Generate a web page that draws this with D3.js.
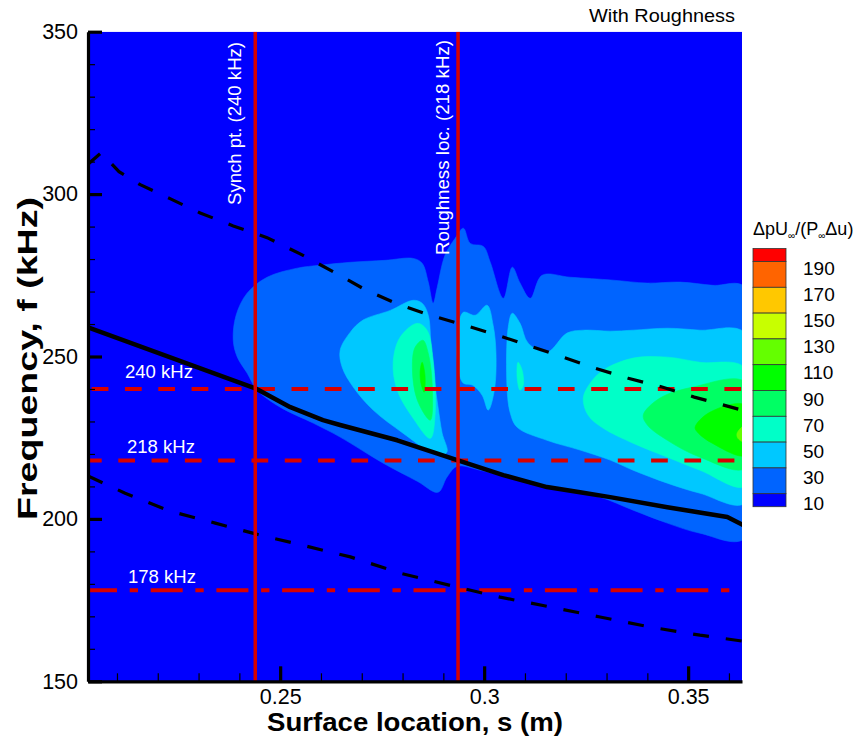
<!DOCTYPE html>
<html><head><meta charset="utf-8">
<script src="https://cdn.jsdelivr.net/npm/d3@7"></script>
<style>
body{margin:0;background:#fff}
svg{display:block}
text{font-family:"Liberation Sans",Arial,Helvetica,sans-serif}
</style>
</head><body>
<svg id="chart" width="858" height="739"></svg>
<script>
// ---------------- DATA ----------------
const xDomain = [0.2029, 0.3632];          // surface location s (m)
const yDomain = [150, 350];                // frequency (kHz)
const xTickValues = [0.25, 0.30, 0.35];
const xTickLabels = ["0.25", "0.3", "0.35"];
const yTickValues = [150, 200, 250, 300, 350];
const yTickLabels = ["150", "200", "250", "300", "350"];
const xMinorTicks = [0.21,0.22,0.23,0.24,0.26,0.27,0.28,0.29,0.31,0.32,0.33,0.34,0.36];
const yMinorTicks = [160,170,180,190,210,220,230,240,260,270,280,290,310,320,330,340];

const levels = [10, 30, 50, 70, 90, 110, 130, 150, 170, 190];
const levelColors = ["#0000FF","#0064FF","#00C8FF","#00FFC8","#00FF64","#00FF00",
                     "#64FF00","#C8FF00","#FFC800","#FF6400","#FF0000"];

// contour band outlines (s, f); each filled with colour above its level
const band10 = [[0.2385,255.0],[0.2392,262.7],[0.2419,269.5],[0.2468,274.4],[0.2542,277.2],[0.2598,278.1],
 [0.2672,279.0],[0.2757,279.6],[0.2826,280.2],[0.2848,278.7],[0.2863,272.9],[0.2875,266.4],[0.2885,271.3],
 [0.2904,281.2],[0.2929,286.4],[0.2949,289.5],[0.2966,284.8],[0.2998,283.9],[0.3015,279.0],[0.3047,267.9],
 [0.3069,277.5],[0.3088,272.6],[0.3113,267.9],[0.3142,275.0],[0.3211,274.4],[0.3316,273.5],[0.3400,272.6],
 [0.3480,272.9],[0.3561,271.9],[0.3640,271.3],[0.3640,194.1],[0.3529,195.6],[0.3449,198.7],[0.3365,202.7],
 [0.3284,206.7],[0.3186,208.9],[0.3088,211.9],[0.2990,215.0],[0.2934,216.2],[0.2909,212.9],[0.2887,208.2],
 [0.2836,211.6],[0.2752,217.2],[0.2647,225.2],[0.2581,229.5],[0.2500,234.4],[0.2444,239.6],[0.2419,244.9],
 [0.2395,249.8]];
const band30a = [[0.2647,251.9],[0.2672,257.5],[0.2703,261.2],[0.2770,264.2],[0.2826,267.3],[0.2848,266.4],
 [0.2863,262.7],[0.2870,252.9],[0.2878,242.7],[0.2887,234.4],[0.2897,226.4],[0.2909,220.6],[0.2892,219.6],
 [0.2868,220.6],[0.2801,226.4],[0.2728,233.5],[0.2679,240.6],[0.2652,246.7]];
const band30b = [[0.2936,258.1],[0.2949,263.6],[0.2978,262.7],[0.3007,265.8],[0.3022,259.6],[0.3029,251.0],
 [0.3025,239.6],[0.3010,233.5],[0.2995,238.1],[0.2971,241.2],[0.2949,241.8],[0.2936,246.7]];
const band30c = [[0.3069,263.3],[0.3088,260.2],[0.3108,254.1],[0.3154,251.3],[0.3203,257.2],[0.3243,258.1],
 [0.3309,257.8],[0.3365,258.1],[0.3449,258.7],[0.3529,258.1],[0.3640,257.2],[0.3640,204.9],[0.3529,207.9],
 [0.3449,211.0],[0.3365,215.0],[0.3309,218.1],[0.3235,221.2],[0.3154,224.2],[0.3081,228.2],[0.3064,232.6],
 [0.3056,240.6],[0.3059,259.0]];
const band50a = [[0.2836,260.2],[0.2860,258.1],[0.2875,248.9],[0.2880,232.6],[0.2868,224.8],[0.2826,231.0],
 [0.2787,239.6],[0.2777,248.2],[0.2794,255.9]];
const band50b = [[0.3083,248.2],[0.3093,245.8],[0.3096,241.2],[0.3088,239.6],[0.3081,243.3]];
const band50c = [[0.3243,237.2],[0.3260,241.8],[0.3292,245.8],[0.3365,249.5],[0.3449,249.8],[0.3529,248.2],
 [0.3640,246.4],[0.3640,210.1],[0.3529,215.0],[0.3449,219.0],[0.3365,223.3],[0.3292,227.9],[0.3255,231.9]];
const band70a = [[0.2850,255.0],[0.2863,251.0],[0.2873,240.6],[0.2868,230.4],[0.2836,236.6],[0.2824,246.7],
 [0.2831,252.9]];
const band70b = [[0.3390,232.0],[0.3431,237.2],[0.3512,240.6],[0.3640,242.1],[0.3640,215.6],[0.3529,219.0],
 [0.3449,224.2],[0.3400,228.9]];
const band90a = [[0.2848,248.2],[0.2855,244.2],[0.2853,239.0],[0.2846,241.2],[0.2843,245.2]];
const band90b = [[0.3517,228.2],[0.3554,232.9],[0.3640,235.0],[0.3640,219.6],[0.3559,223.3],[0.3525,226.4]];
const band110a = [[0.3620,226.4],[0.3640,228.9],[0.3640,223.6],[0.3622,224.8]];

const bands = [
  {level: 10, polys: [band10]},
  {level: 30, polys: [band30a, band30b, band30c]},
  {level: 50, polys: [band50a, band50b, band50c]},
  {level: 70, polys: [band70a, band70b]},
  {level: 90, polys: [band90a, band90b]},
  {level: 110, polys: [band110a]}
];

// black curves
const solidCurve = [[0.2029,259.0],[0.2439,240.2],[0.2525,234.4],[0.2605,230.4],[0.2647,228.9],[0.2787,224.2],
 [0.2934,218.1],[0.3047,213.5],[0.3154,209.8],[0.3235,208.2],[0.3309,206.7],[0.3449,203.6],[0.3596,200.6],[0.3635,198.1]];
const upperDashed = [[0.2029,309.2],[0.2061,312.7],[0.2105,306.9],[0.2157,302.9],[0.2230,298.6],[0.2304,294.2],
 [0.2385,290.2],[0.2468,286.6],[0.2549,281.6],[0.2630,276.1],[0.2708,270.6],[0.2789,266.1],[0.2868,262.7],
 [0.2953,259.6],[0.3032,256.6],[0.3113,253.2],[0.3194,249.8],[0.3272,246.4],[0.3353,243.3],[0.3436,240.6],
 [0.3515,237.5],[0.3632,233.5]];
const lowerDashed = [[0.2029,213.2],[0.2120,207.9],[0.2230,202.4],[0.2341,198.7],[0.2451,195.0],[0.2532,192.6],
 [0.2672,188.3],[0.2794,183.3],[0.2934,179.0],[0.3039,175.9],[0.3162,172.9],[0.3284,169.8],[0.3407,166.7],
 [0.3529,164.2],[0.3632,162.4]];

// reference lines
const verticalLines = [{s: 0.2439, label: "Synch pt. (240 kHz)"}, {s: 0.2936, label: "Roughness loc. (218 kHz)"}];
const horizontalLines = [{f: 240, label: "240 kHz"}, {f: 218, label: "218 kHz"}, {f: 178, label: "178 kHz"}];

// ---------------- DRAW ----------------
const svg = d3.select("#chart");
const P = {left: 88, right: 742, top: 31.7, bottom: 681.3};
const x = d3.scaleLinear().domain(xDomain).range([P.left, P.right]);
const y = d3.scaleLinear().domain(yDomain).range([P.bottom, P.top]);

svg.append("defs").append("clipPath").attr("id","clip")
  .append("rect").attr("x",P.left).attr("y",P.top).attr("width",P.right-P.left).attr("height",P.bottom-P.top);

const g = svg.append("g").attr("clip-path","url(#clip)");
g.append("rect").attr("x",P.left).attr("y",P.top).attr("width",P.right-P.left).attr("height",P.bottom-P.top)
  .attr("fill", levelColors[0]);

const poly = d3.line().x(d=>x(d[0])).y(d=>y(d[1])).curve(d3.curveCatmullRomClosed.alpha(0.5));
bands.forEach(b=>{
  const col = levelColors[levels.indexOf(b.level)+1];
  b.polys.forEach(p=>{
    g.append("path").attr("d", poly(p)).attr("fill", col).attr("stroke", col).attr("stroke-width",0.6);
  });
});

const line = d3.line().x(d=>x(d[0])).y(d=>y(d[1]));
const red = "#D80000";

// horizontal reference lines
horizontalLines.forEach((h,i)=>{
  const l = g.append("line").attr("x1",P.left).attr("x2",P.right).attr("y1",y(h.f)).attr("y2",y(h.f))
    .attr("stroke",red).attr("stroke-width",4);
  if (i===0) l.attr("stroke-dasharray","16.7,16.6").attr("stroke-dashoffset",29.6);
  else if (i===1) l.attr("stroke-dasharray","16.7,16.6").attr("stroke-dashoffset",3);
  else l.attr("stroke-dasharray","32,12.7,8.3,12.7").attr("stroke-dashoffset",3);
});

// black curves
g.append("path").attr("d",line(upperDashed)).attr("fill","none").attr("stroke","#000")
  .attr("stroke-width",3.2).attr("stroke-dasharray","16,17");
g.append("path").attr("d",line(lowerDashed)).attr("fill","none").attr("stroke","#000")
  .attr("stroke-width",3.2).attr("stroke-dasharray","16,17");
g.append("path").attr("d",line(solidCurve)).attr("fill","none").attr("stroke","#000")
  .attr("stroke-width",4.5).attr("stroke-linejoin","round");

// vertical reference lines
verticalLines.forEach(v=>{
  g.append("line").attr("x1",x(v.s)).attr("x2",x(v.s)).attr("y1",P.top).attr("y2",P.bottom)
    .attr("stroke",red).attr("stroke-width",3.5);
});

// labels
const vOff = [-14, -9], vStart = [205, 255], vLen = [163, 215];
verticalLines.forEach((v,i)=>{
  const tx = x(v.s)+vOff[i], ty = vStart[i];
  svg.append("text").attr("transform",`translate(${tx},${ty}) rotate(-90)`)
    .attr("fill","#fff").attr("font-size",18).attr("textLength",vLen[i])
    .attr("lengthAdjust","spacingAndGlyphs").text(v.label);
});
const hx = [125, 127, 128], hOff = [-10.5, -7.5, -7.5];
horizontalLines.forEach((h,i)=>{
  svg.append("text").attr("x",hx[i]).attr("y",y(h.f)+hOff[i]).attr("fill","#fff")
    .attr("font-size",18).attr("textLength",68).attr("lengthAdjust","spacingAndGlyphs").text(h.label);
});

// axes
const yAxis = d3.axisLeft(y).tickValues(yTickValues).tickFormat((d,i)=>yTickLabels[i])
  .tickSizeInner(-14).tickSizeOuter(0).tickPadding(10);
const yAx = svg.append("g").attr("transform",`translate(${P.left},0)`).call(yAxis);
svg.append("g").attr("transform",`translate(${P.left},0)`)
  .call(d3.axisLeft(y).tickValues(yMinorTicks).tickFormat("").tickSizeInner(-7).tickSizeOuter(0))
  .call(a=>a.select(".domain").remove())
  .selectAll("line").attr("stroke-width",1.2);

const xAxis = d3.axisBottom(x).tickValues(xTickValues).tickFormat((d,i)=>xTickLabels[i])
  .tickSizeInner(-15).tickSizeOuter(0).tickPadding(7);
const xAx = svg.append("g").attr("transform",`translate(0,${P.bottom})`).call(xAxis);
svg.append("g").attr("transform",`translate(0,${P.bottom})`)
  .call(d3.axisBottom(x).tickValues(xMinorTicks).tickFormat("").tickSizeInner(-8).tickSizeOuter(0))
  .call(a=>a.select(".domain").remove())
  .selectAll("line").attr("stroke-width",1.2);

[yAx,xAx].forEach(a=>{
  a.select(".domain").attr("stroke","#000").attr("stroke-width",3.2);
  a.selectAll(".tick line").attr("stroke","#000").attr("stroke-width",3.2);
  a.selectAll(".tick text").attr("font-size",21.5).attr("fill","#000")
    .attr("font-family","'Liberation Sans',Arial,sans-serif");
});

// axis titles
svg.append("text").attr("x",(P.left+P.right)/2).attr("y",731).attr("text-anchor","middle")
  .attr("font-size",25).attr("font-weight","bold").attr("textLength",296)
  .attr("lengthAdjust","spacingAndGlyphs").text("Surface location, s (m)");
svg.append("text").attr("transform",`translate(37,358.5) rotate(-90)`)
  .attr("text-anchor","middle").attr("font-size",27).attr("font-weight","bold")
  .attr("textLength",323).attr("lengthAdjust","spacingAndGlyphs").text("Frequency, f (kHz)");

// top-right note
svg.append("text").attr("x",735).attr("y",22).attr("text-anchor","end").attr("font-size",19)
  .attr("textLength",146).attr("lengthAdjust","spacingAndGlyphs").text("With Roughness");

// legend
const L = {x: 753, w: 33, top: 248.5, half: 13, full: 25.8};
const legendColors = levelColors.slice().reverse();  // red at top
legendColors.forEach((c,i)=>{
  const y0 = i===0 ? L.top : L.top + L.half + (i-1)*L.full;
  const h = (i===0 || i===legendColors.length-1) ? L.half : L.full;
  svg.append("rect").attr("x",L.x).attr("y",y0).attr("width",L.w).attr("height",h)
    .attr("fill",c).attr("stroke","#333").attr("stroke-width",0.8);
});
const legendLabels = levels.slice().reverse();
legendLabels.forEach((v,i)=>{
  svg.append("text").attr("x",803).attr("y",268 + i*26.2).attr("dy","0.35em")
    .attr("font-size",19).text(v);
});
const lt = svg.append("text").attr("x",753).attr("y",235).attr("font-size",18);
lt.append("tspan").text("\u0394pU");
lt.append("tspan").attr("font-size",10).attr("dy",4).text("\u221E");
lt.append("tspan").attr("dy",-4).text("/(P");
lt.append("tspan").attr("font-size",10).attr("dy",4).text("\u221E");
lt.append("tspan").attr("dy",-4).text("\u0394u)");
</script>
</body></html>
